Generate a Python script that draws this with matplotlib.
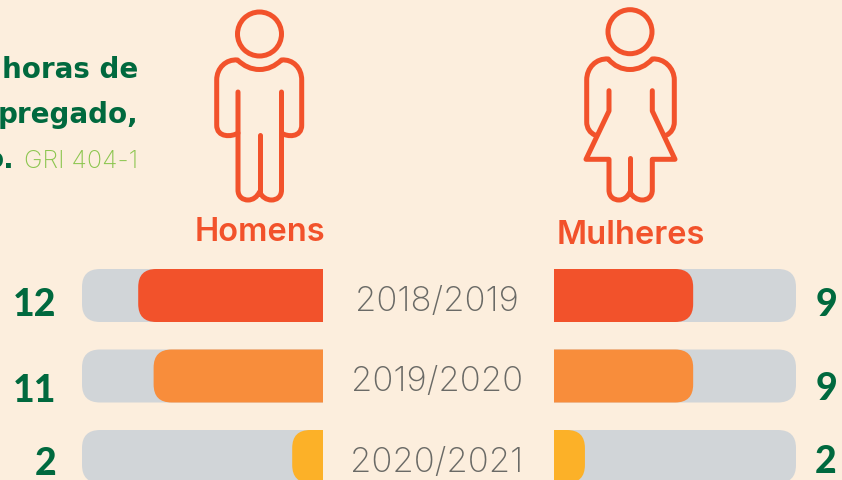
import matplotlib
matplotlib.use('Agg')
import matplotlib.pyplot as plt
from matplotlib.patches import FancyBboxPatch, Circle, PathPatch
from matplotlib.path import Path

W, H = 842, 480

# dados
anos = ['2018/2019', '2019/2020', '2020/2021']
homens = [12, 11, 2]
mulheres = [9, 9, 2]
maximo = 15.65

BG = '#FCEEDD'
LARANJA = '#F2522B'
VERDE = '#00693E'
VERDE_CLARO = '#8CC64F'
CINZA = '#D1D5D8'
CINZA_TXT = '#6A6A66'
cores = ['#F2522B', '#F88D3B', '#FCB128']

M, C4, L = Path.MOVETO, Path.CURVE4, Path.LINETO

fig = plt.figure(figsize=(W / 100, H / 100), dpi=100, facecolor=BG)


def eixo_barras(x0, x1, invertido):
    # eixo em unidades de horas; linhas espacadas 80.5 px
    topo, base = 255, 496
    ax = fig.add_axes([x0 / W, 1 - base / H, (x1 - x0) / W, (base - topo) / H])
    ax.set_xlim((maximo, 0) if invertido else (0, maximo))
    ax.set_ylim((base - 295.5) / 80.5, (topo - 295.5) / 80.5)
    ax.axis('off')
    return ax


def barra(ax, valor, linha, cor, z):
    px_x = ax.get_position().width * W / maximo
    raio = 18 / px_x
    alt = 53 / 80.5
    p = FancyBboxPatch((-2, linha - alt / 2), valor + 2, alt,
                       boxstyle=f'round,pad=0,rounding_size={raio}',
                       mutation_aspect=px_x / 80.5,
                       fc=cor, ec='none', zorder=z)
    ax.add_patch(p)


ax_h = eixo_barras(82, 323, True)
ax_m = eixo_barras(554, 796, False)
for i in range(len(anos)):
    barra(ax_h, maximo, i, CINZA, 1)
    barra(ax_h, homens[i], i, cores[i], 2)
    barra(ax_m, maximo, i, CINZA, 1)
    barra(ax_m, mulheres[i], i, cores[i], 2)

# camada em pixels para textos e icones
ov = fig.add_axes([0, 0, 1, 1], facecolor='none')
ov.set_xlim(0, W)
ov.set_ylim(H, 0)
ov.axis('off')


def traco(partes):
    # partes: lista de (codigo, pontos)
    verts, codes = [], []
    for cod, pts in partes:
        verts += pts
        codes += [cod] * len(pts)
    ov.add_patch(PathPatch(Path(verts, codes), fc='none', ec=LARANJA, lw=3.6,
                           capstyle='round', joinstyle='round'))


def pernas(xe, xc, xd, topo):
    return [(C4, [(xe, 197), (xe + 5, 200), (xe + 10, 200)]),
            (C4, [(xe + 15, 200), (xc - 2.5, 197), (xc, 192)]),
            (C4, [(xc + 2.5, 197), (xd - 15, 200), (xd - 10, 200)]),
            (C4, [(xd - 5, 200), (xd, 197), (xd, 190)]),
            (L, [(xd, topo)])]


# homem
ov.add_patch(Circle((259.5, 34), 22, fc='none', ec=LARANJA, lw=3.6))
traco([(M, [(238, 92)]), (L, [(238, 190)])] + pernas(238, 259.5, 281.5, 92))
traco([(M, [(238, 133)]),
       (C4, [(232, 137), (216.7, 138), (216.7, 125)]),
       (L, [(216.7, 80)]),
       (C4, [(216.7, 68), (226, 59), (237.5, 60)]),
       (C4, [(244, 66), (251, 69.5), (259.5, 69.5)]),
       (C4, [(268, 69.5), (275, 66), (281.5, 60)]),
       (C4, [(293, 59), (301.7, 68), (301.7, 80)]),
       (L, [(301.7, 125)]),
       (C4, [(301.7, 138), (287, 137), (281.5, 133)])])
traco([(M, [(259.5, 135)]), (L, [(259.5, 192)])])

# mulher
ov.add_patch(Circle((630, 31.7), 22, fc='none', ec=LARANJA, lw=3.6))
traco([(M, [(609, 90.7)]), (L, [(609, 111), (586, 159.3), (609, 159.3), (609, 190)])]
      + pernas(609, 630, 652.3, 159.3)
      + [(L, [(675, 159.3), (652.3, 111), (652.3, 90.7)])])
traco([(M, [(595, 135)]),
       (C4, [(590, 133), (586.7, 128), (586.7, 122)]),
       (L, [(586.7, 80)]),
       (C4, [(586.7, 68), (596, 58), (608.3, 59)]),
       (C4, [(614, 66), (622, 69.5), (630, 69.5)]),
       (C4, [(638, 69.5), (646, 66), (652.3, 59)]),
       (C4, [(664, 58), (674.3, 68), (674.3, 80)]),
       (L, [(674.3, 122)]),
       (C4, [(674.3, 128), (671, 133), (666.7, 135)])])
traco([(M, [(630, 158.3)]), (L, [(630, 192)])])

# textos
ov.text(138, 78, 'horas de', ha='right', va='baseline', family='DejaVu Sans', weight='bold',
        size=20, color=VERDE)
ov.text(138, 123, 'pregado,', ha='right', va='baseline', family='DejaVu Sans', weight='bold',
        size=20, color=VERDE)
ov.text(14, 168, 'o.', ha='right', va='baseline', family='DejaVu Sans', weight='bold',
        size=20, color=VERDE)
ov.text(138, 168, 'GRI 404-1', ha='right', va='baseline', family='Inter', weight='light',
        size=18, color=VERDE_CLARO)

ov.text(260, 241, 'Homens', ha='center', va='baseline', family='Inter', weight='semibold',
        size=23.5, color=LARANJA)
ov.text(631, 244, 'Mulheres', ha='center', va='baseline', family='Inter', weight='semibold',
        size=23.5, color=LARANJA)

base_esq = [316, 402, 475]
base_dir = [316, 400, 473]
base_ano = [311, 391, 472]
for i, ano in enumerate(anos):
    ov.text(437, base_ano[i], ano, ha='center', va='baseline', family='Inter', weight='light',
            size=25, color=CINZA_TXT)
    ov.text(56, base_esq[i], str(homens[i]), ha='right', va='baseline', family='Lato',
            weight='black', size=27, color=VERDE)
    ov.text(837, base_dir[i], str(mulheres[i]), ha='right', va='baseline', family='Lato',
            weight='black', size=27, color=VERDE)

fig.savefig('out.png', dpi=100, facecolor=BG)
